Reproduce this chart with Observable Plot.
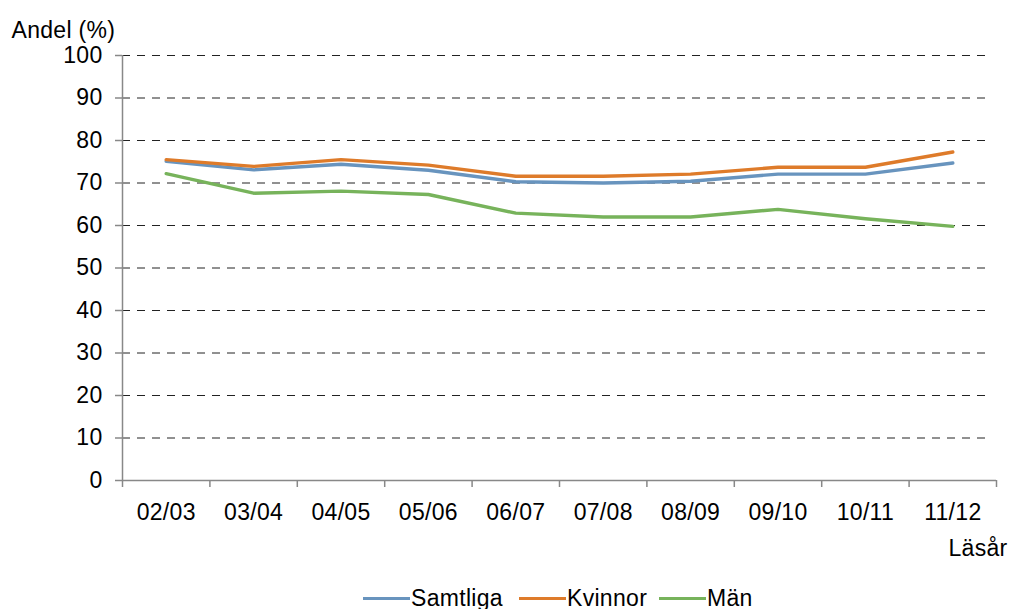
<!DOCTYPE html>
<html><head><meta charset="utf-8">
<script src="https://cdn.jsdelivr.net/npm/d3@7"></script>
<script src="https://cdn.jsdelivr.net/npm/@observablehq/plot@0.6"></script>
<style>
body{margin:0;background:#fff;font-family:"Liberation Sans",Arial,sans-serif;}
#chart{position:relative;width:1014px;height:609px;overflow:hidden;}
#chart svg{display:block;}
.item{position:absolute;top:584px;height:28px;display:flex;align-items:center;font-size:23px;letter-spacing:0.3px;color:#000;white-space:nowrap;}
.item .sw{width:47px;height:3px;margin-right:1px;}
</style></head><body><div id="chart"></div>
<script>
const years = ["02/03","03/04","04/05","05/06","06/07","07/08","08/09","09/10","10/11","11/12"];
const samtliga = [75.1,73.1,74.4,73.0,70.3,70.0,70.4,72.1,72.1,74.7];
const kvinnor  = [75.5,73.9,75.5,74.2,71.6,71.6,72.1,73.7,73.7,77.3];
const man      = [72.2,67.6,68.1,67.3,62.9,62.0,62.0,63.8,61.6,59.8];
const seriesNames = ["Samtliga","Kvinnor","Män"];
const seriesColors = ["#6894be","#de7b2a","#77b35b"];
const yTicks = [0,10,20,30,40,50,60,70,80,90,100];
const gridTicks = [10,20,30,40,50,60,70,80,90,100];
const yTitle = "Andel (%)";
const xTitle = "Läsår";

const seriesValues = [samtliga, kvinnor, man];
const rows = [];
seriesNames.forEach((s, k) => seriesValues[k].forEach((v, i) => rows.push({serie: s, i, value: v})));
const boundaries = d3.range(years.length + 1).map(i => i - 0.5);

const chart = Plot.plot({
  width: 1014, height: 575,
  marginLeft: 122, marginRight: 18, marginTop: 55, marginBottom: 95,
  style: {fontFamily: '"Liberation Sans", Arial, sans-serif', fontSize: "23px", color: "#000", background: "#fff", letterSpacing: "0.3px"},
  x: {type: "linear", domain: [-0.5, years.length - 0.5], label: null},
  y: {domain: [0, 100], label: null},
  color: {domain: seriesNames, range: seriesColors},
  marks: [
    Plot.ruleY(gridTicks, {x1: -0.5, x2: years.length - 0.55, stroke: "#222", strokeWidth: 1, strokeDasharray: "8,7"}),
    Plot.ruleX([-0.5], {y1: 0, y2: 100, stroke: "#888", strokeWidth: 1.5}),
    Plot.ruleY([0], {x1: -0.5, x2: years.length - 0.5, stroke: "#888", strokeWidth: 1.5}),
    Plot.axisY({ticks: yTicks, tickSize: 7, tickPadding: 13, stroke: "#888", strokeWidth: 1.5, label: null, fill: "#000", fontSize: 23}),
    Plot.axisX({ticks: d3.range(years.length), tickSize: 0, tickPadding: 23, tickFormat: i => years[i], label: null, fill: "#000", fontSize: 23}),
    Plot.axisX({ticks: boundaries, tickSize: 7, tickFormat: () => "", stroke: "#888", strokeWidth: 1.5, label: null}),
    Plot.line(rows, {x: "i", y: "value", z: "serie", stroke: "serie", strokeWidth: 3.4, curve: "linear"}),
    Plot.text([xTitle], {frameAnchor: "bottom-right", dx: 11, dy: 75, textAnchor: "end", fill: "#000", fontSize: 23}),
    Plot.text([yTitle], {frameAnchor: "top-left", dx: -111, dy: -34, textAnchor: "start", fill: "#000", fontSize: 23})
  ]
});
const root = document.getElementById("chart");
root.appendChild(chart);
const legendLeft = [363, 519, 659];
seriesNames.forEach((s, k) => {
  const d = document.createElement("div");
  d.className = "item";
  d.style.left = legendLeft[k] + "px";
  d.innerHTML = `<span class="sw" style="background:${seriesColors[k]}"></span><span>${s}</span>`;
  root.appendChild(d);
});
</script></body></html>
